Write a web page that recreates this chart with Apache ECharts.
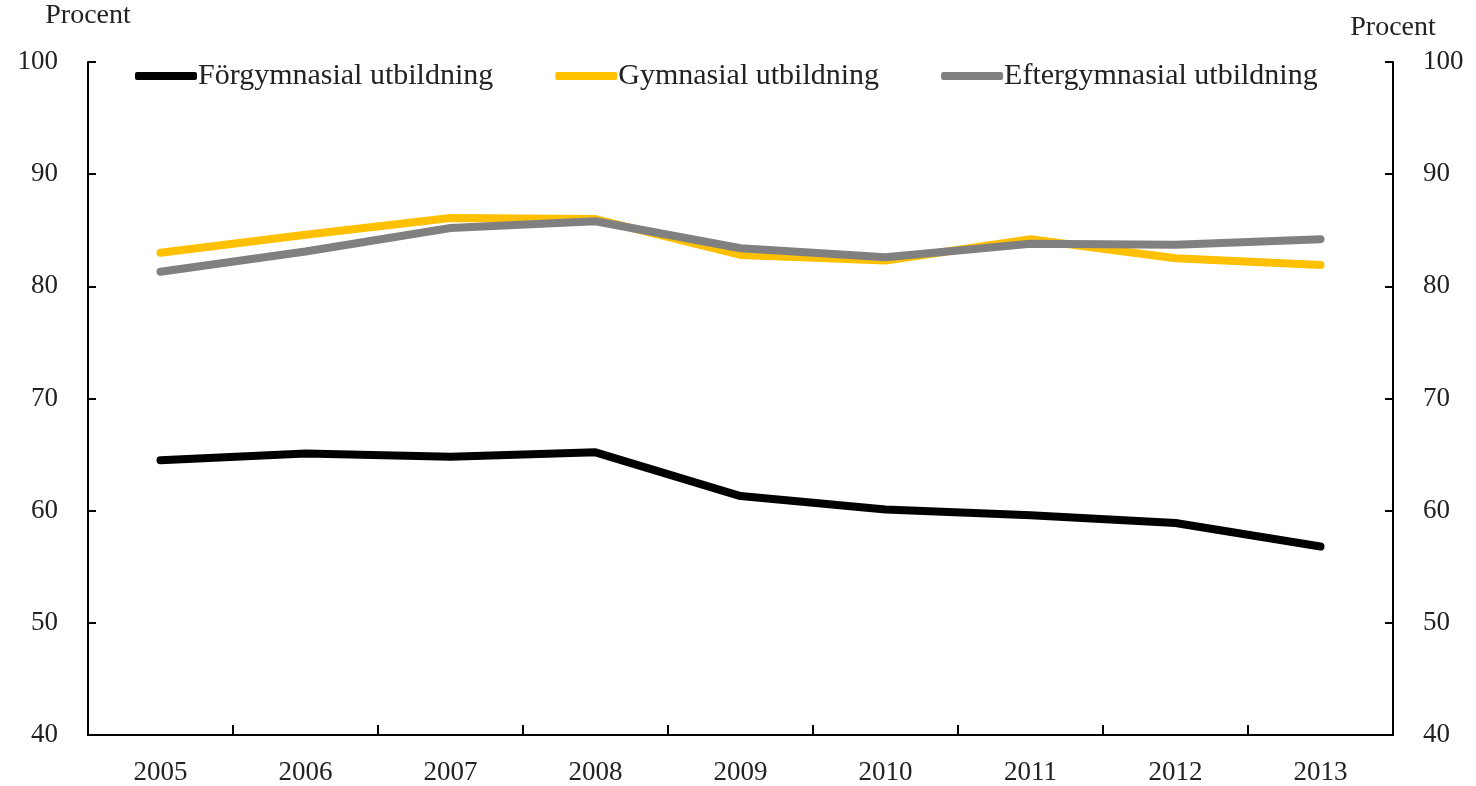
<!DOCTYPE html>
<html><head><meta charset="utf-8">
<script src="https://cdn.jsdelivr.net/npm/echarts@6/dist/echarts.min.js"></script>
<style>html,body{margin:0;padding:0;background:#fff}#c{width:1476px;height:786px}</style>
</head><body><div id="c"></div>
<script>
const years = ['2005','2006','2007','2008','2009','2010','2011','2012','2013'];
const forgymnasial = [64.5, 65.1, 64.8, 65.2, 61.3, 60.1, 59.6, 58.9, 56.8];
const gymnasial = [83.0, 84.6, 86.1, 86.0, 82.8, 82.3, 84.2, 82.5, 81.9];
const eftergymnasial = [81.3, 83.1, 85.2, 85.8, 83.4, 82.6, 83.8, 83.7, 84.2];
const seriesNames = ['Förgymnasial utbildning','Gymnasial utbildning','Eftergymnasial utbildning'];
const yMin = 40, yMax = 100, yStep = 10;

const font = '"Liberation Serif", "DejaVu Serif", serif';
const chart = echarts.init(document.getElementById('c'));
const axisCommon = {
  type: 'value', min: yMin, max: yMax, interval: yStep,
  axisLine: {show: true, lineStyle: {color: '#000', width: 2}},
  axisTick: {show: true, inside: true, length: 8, lineStyle: {color: '#000', width: 2}},
  splitLine: {show: false},
  axisLabel: {color: '#222', fontFamily: font, fontSize: 27, margin: 30},
  name: 'Procent',
  nameLocation: 'end',
  nameTextStyle: {color: '#222', fontFamily: font, fontSize: 28}
};
const colors = ['#000000', '#FFC000', '#808080'];
const data = [forgymnasial, gymnasial, eftergymnasial];
chart.setOption({
  animation: false,
  grid: {left: 88, right: 83, top: 62, bottom: 49},
  legend: {
    data: seriesNames,
    left: 130, top: 56,
    itemWidth: 62, itemHeight: 8, itemGap: 62,
    icon: 'roundRect',
    textStyle: {color: '#222', fontFamily: font, fontSize: 30, padding: [0,0,0,-4]}
  },
  xAxis: {
    type: 'category', data: years, boundaryGap: true,
    axisLine: {lineStyle: {color: '#000', width: 2}},
    axisTick: {show: true, inside: true, length: 10, lineStyle: {color: '#000', width: 2}},
    axisLabel: {color: '#222', fontFamily: font, fontSize: 27, margin: 24}
  },
  yAxis: [
    Object.assign({}, axisCommon, {position: 'left', nameGap: 32, nameTextStyle: Object.assign({}, axisCommon.nameTextStyle, {align: 'center'})}),
    Object.assign({}, axisCommon, {position: 'right', nameGap: 20, nameTextStyle: Object.assign({}, axisCommon.nameTextStyle, {align: 'center'})})
  ],
  series: seriesNames.map((n, i) => ({
    name: n, type: 'line', data: data[i], yAxisIndex: 0,
    symbol: 'none', smooth: false,
    lineStyle: {color: colors[i], width: 8, cap: 'round', join: 'round'},
    itemStyle: {color: colors[i]}
  }))
});
</script></body></html>
